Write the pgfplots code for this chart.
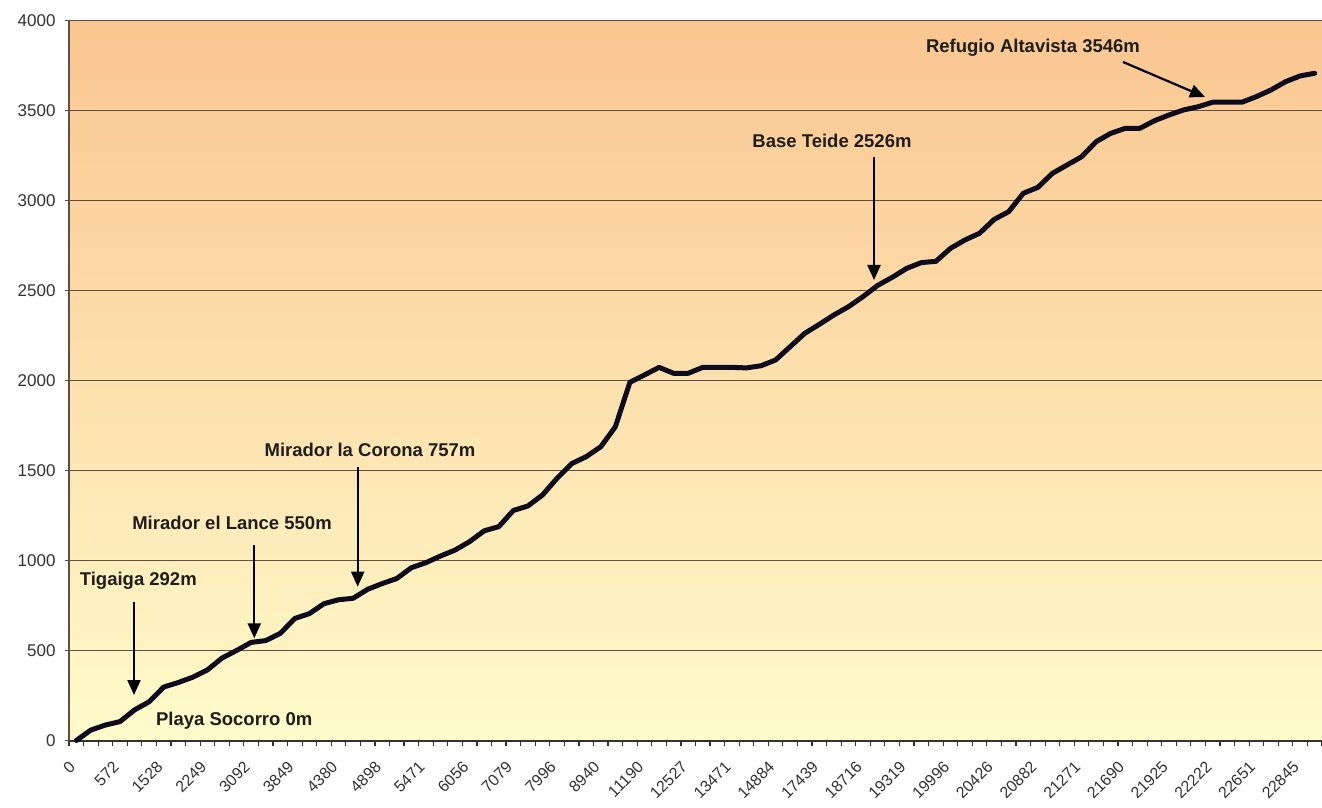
\documentclass[border=0pt]{standalone}
\usepackage{fontspec}
\setmainfont{Liberation Sans}
\usepackage{pgfplots}
\pgfplotsset{compat=1.18}
\usetikzlibrary{arrows.meta,shadings}

\definecolor{bgtop}{RGB}{250,198,144}
\definecolor{bgbot}{RGB}{255,251,202}
\definecolor{gridc}{RGB}{95,78,70}
\definecolor{linec}{RGB}{12,12,30}
\definecolor{txt}{RGB}{30,30,30}
\definecolor{tickc}{RGB}{50,50,50}

\begin{document}
\begin{tikzpicture}
\begin{axis}[
  scale only axis, width=1253pt, height=720pt,
  xmin=-0.5, xmax=85.5, ymin=0, ymax=4000,
  axis background/.style={top color=bgtop, bottom color=bgbot},
  axis x line*=bottom, axis y line*=left,
  x axis line style={draw=tickc, line width=2pt},
  y axis line style={draw=gridc, line width=2pt},
  ytick={0,500,...,4000},
  ymajorgrids,
  major grid style={draw=gridc, line width=1.6pt},
  tick align=outside,
  major tick length=4pt, minor tick length=5pt,
  xtick={0,3,...,84},
  xticklabels={0,572,1528,2249,3092,3849,4380,4898,5471,6056,7079,7996,8940,11190,12527,13471,14884,17439,18716,19319,19996,20426,20882,21271,21690,21925,22222,22651,22845},
  minor xtick={-0.5,0.5,...,85.5},
  every major x tick/.style={draw=none},
  every minor x tick/.style={draw=tickc, line width=1.2pt},
  every major y tick/.style={draw=gridc, line width=1.5pt},
  /pgf/number format/assume math mode=true,
  /pgf/number format/1000 sep={},
  yticklabel style={font=\fontsize{17}{17}\selectfont, text=tickc, xshift=-6pt},
  xticklabel style={font=\fontsize{16}{16}\selectfont, text=tickc, xshift=-8pt, yshift=-11pt, rotate=45, anchor=north east},
  clip=false,
]
\addplot[linec, line width=5pt, line join=round, line cap=round] coordinates {
(0,0) (1,58) (2,86) (3,105) (4,170) (5,215) (6,297) (7,322) (8,352) (9,392)
(10,458) (11,500) (12,545) (13,555) (14,595) (15,678) (16,705) (17,760) (18,782) (19,790)
(20,840) (21,872) (22,900) (23,960) (24,988) (25,1025) (26,1058) (27,1105) (28,1165) (29,1188)
(30,1278) (31,1303) (32,1364) (33,1457) (34,1538) (35,1577) (36,1632) (37,1743) (38,1990) (39,2031)
(40,2073) (41,2040) (42,2040) (43,2073) (44,2073) (45,2073) (46,2070) (47,2082) (48,2114) (49,2188)
(50,2262) (51,2312) (52,2364) (53,2410) (54,2466) (55,2528) (56,2573) (57,2623) (58,2655) (59,2662)
(60,2734) (61,2781) (62,2818) (63,2895) (64,2938) (65,3040) (66,3073) (67,3151) (68,3197) (69,3243)
(70,3327) (71,3373) (72,3401) (73,3401) (74,3443) (75,3475) (76,3503) (77,3521) (78,3546) (79,3546)
(80,3546) (81,3577) (82,3614) (83,3660) (84,3692) (85,3707)
};
\end{axis}
\tikzset{ann/.style={font=\fontsize{18.5}{20}\selectfont\bfseries, text=txt, inner sep=0pt},
         arr/.style={draw=black, line width=2.2pt, -{Triangle[length=15pt,width=13pt]}}}
\node[ann] at (964pt,692.5pt) {Refugio Altavista 3546m};
\draw[arr] (1054pt,678.5pt) -- (1136pt,643.5pt);
\node[ann] at (763pt,599.5pt) {Base Teide 2526m};
\draw[arr] (805pt,583.5pt) -- (805pt,460.5pt);
\node[ann] at (301pt,290.5pt) {Mirador la Corona 757m};
\draw[arr] (288.7pt,273.8pt) -- (288.7pt,153.8pt);
\node[ann] at (163pt,217.2pt) {Mirador el Lance 550m};
\draw[arr] (185.3pt,195.5pt) -- (185.3pt,102.2pt);
\node[ann] at (69.3pt,159.8pt) {Tigaiga 292m};
\draw[arr] (65pt,138.8pt) -- (65pt,45.5pt);
\node[ann] at (165.2pt,19.8pt) {Playa Socorro 0m};
\pgfresetboundingbox
\path[use as bounding box] (-69pt,-66.5pt) rectangle (1253pt,740.5pt);
\end{tikzpicture}
\end{document}
